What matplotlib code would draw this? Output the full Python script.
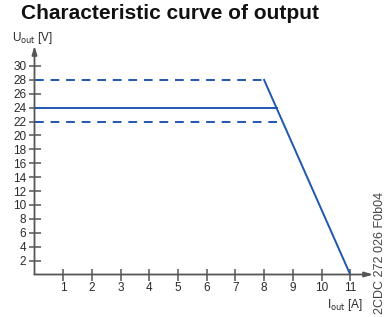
"""Characteristic curve of output (U_out vs I_out)."""

import matplotlib.pyplot as plt

# data
upper_x = [0, 8]
upper_y = [28, 28]
nominal_x = [0, 8.44]
nominal_y = [24, 24]
lower_x = [0, 8.44]
lower_y = [22, 22]
slope_x = [8, 11]
slope_y = [28, 0]
x_ticks = list(range(1, 12))
y_ticks = list(range(2, 31, 2))

BLUE = "#1f57b0"
AXIS = "#555555"
TEXT = "#2a2a2a"

plt.rcParams["font.family"] = ["Liberation Sans", "DejaVu Sans"]

W, H = 388, 317
fig = plt.figure(figsize=(W / 100, H / 100), dpi=100)

# axes placed so that data (0, 0) lands where the reference puts it
x0_px, y0_px = 34.5, 274.5
px_per_x, px_per_y = 28.7, 6.95
xmax, ymax = 11.8, 32.9
ax = fig.add_axes([
    x0_px / W,
    1 - y0_px / H,
    xmax * px_per_x / W,
    ymax * px_per_y / H,
])
ax.set_xlim(0, xmax)
ax.set_ylim(0, ymax)

ax.plot(upper_x, upper_y, color=BLUE, lw=1.4, ls=(0, (4.5, 3.5)))
ax.plot(lower_x, lower_y, color=BLUE, lw=1.4, ls=(0, (4.5, 3.5)))
ax.plot(nominal_x, nominal_y, color=BLUE, lw=1.4)
ax.plot(slope_x, slope_y, color=BLUE, lw=1.4, clip_on=False)

for side in ax.spines.values():
    side.set_visible(False)

arrow = dict(arrowstyle="-|>,head_length=0.5,head_width=0.15", color=AXIS, lw=1.3,
             shrinkA=0, shrinkB=0)
ax.annotate("", xy=(xmax, 0), xytext=(0, 0), arrowprops=arrow, annotation_clip=False)
ax.annotate("", xy=(0, ymax), xytext=(0, 0), arrowprops=arrow, annotation_clip=False)

ax.set_xticks(x_ticks)
ax.set_yticks(y_ticks)
ax.tick_params(direction="inout", length=9, width=1.1, color=AXIS,
               labelsize=8.5, labelcolor=TEXT, pad=1.5)
ax.tick_params(axis="x", pad=1)

fig.text(21 / W, 1 - 13.5 / H, "Characteristic curve of output", fontsize=15,
         fontweight="bold", color="#111111", va="center", ha="left")
fig.text(12 / W, 1 - 38 / H, r"U$_{\mathrm{out}}$ [V]", fontsize=8.5, color=TEXT,
         va="center", ha="left")
fig.text(327 / W, 1 - 305 / H, r"I$_{\mathrm{out}}$ [A]", fontsize=8.5, color=TEXT,
         va="center", ha="left")
fig.text(380 / W, 1 - 314 / H, "2CDC 272 026 F0b04", fontsize=9, color="#444444",
         rotation=90, va="bottom", ha="center")

fig.savefig("out.png", dpi=100)
